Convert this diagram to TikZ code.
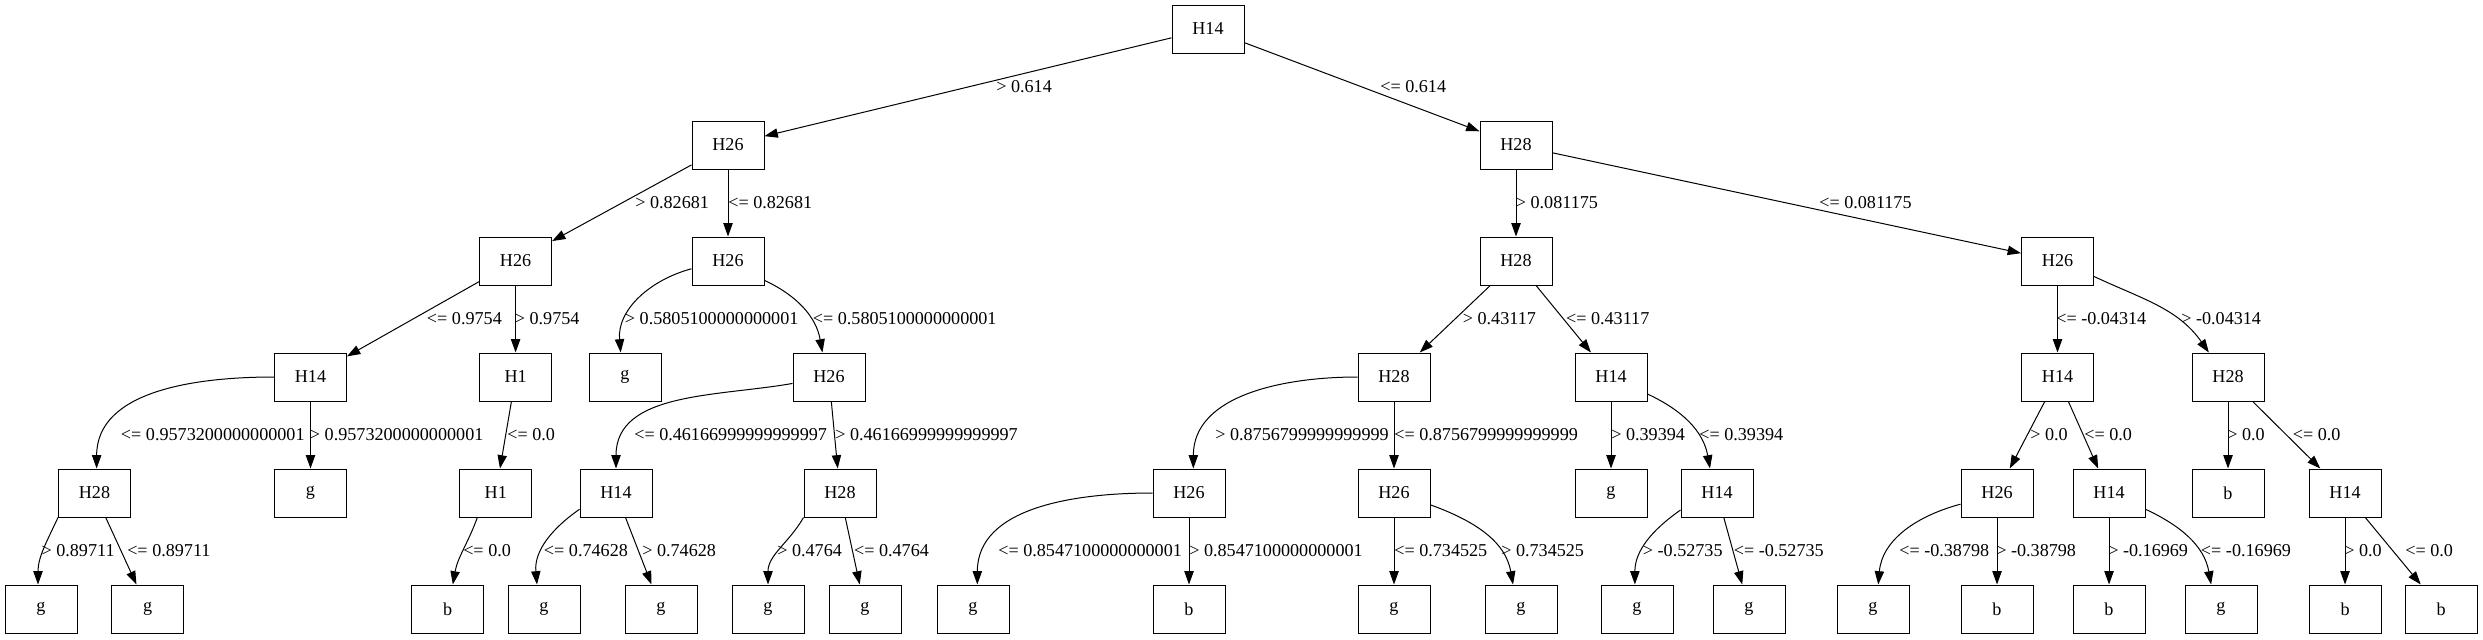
\documentclass[tikz,border=0pt]{standalone}
\usepackage{fontspec}
\setmainfont{Liberation Serif}
\usetikzlibrary{arrows.meta}

\begin{document}
\begin{tikzpicture}[x=0.75pt, y=0.75pt,
  feat/.style={draw, line width=0.75pt, minimum width=54pt,
    minimum height=36pt, inner sep=0pt,
    font=\fontsize{13.6pt}{16pt}\selectfont},
  leaf/.style={feat},
  cond/.style={anchor=west, inner sep=0pt,
    font=\fontsize{13.6pt}{16pt}\selectfont},
  link/.style={line width=0.75pt, -{Triangle[length=10pt, width=7pt]}},
]
  \useasboundingbox (0,0) rectangle (2483,-639);
  % Root and first splits
  \node[feat] (root) at (1208,-29) {H14};
  \node[feat] (L) at (728,-145) {H26};
  \node[feat] (R) at (1516,-145) {H28};
  % Level 2
  \node[feat] (LL) at (515.6,-261) {H26};
  \node[feat] (LR) at (728,-261) {H26};
  \node[feat] (RL) at (1516,-261) {H28};
  \node[feat] (RR) at (2057.5,-261) {H26};
  % Level 3
  \node[feat] (LLL) at (310.5,-377) {H14};
  \node[feat] (LLR) at (515.6,-377) {H1};
  \node[leaf] (LRL) at (625,-377) {g};
  \node[feat] (LRR) at (829,-377) {H26};
  \node[feat] (RLL) at (1394,-377) {H28};
  \node[feat] (RLR) at (1611,-377) {H14};
  \node[feat] (RRL) at (2057.5,-377) {H14};
  \node[feat] (RRR) at (2228,-377) {H28};
  % Level 4
  \node[feat] (LLLL) at (94.5,-493) {H28};
  \node[leaf] (LLLR) at (310.5,-493) {g};
  \node[feat] (LLRL) at (495.8,-493) {H1};
  \node[feat] (LRRL) at (616,-493) {H14};
  \node[feat] (LRRR) at (840,-493) {H28};
  \node[feat] (RLLL) at (1189,-493) {H26};
  \node[feat] (RLLR) at (1394,-493) {H26};
  \node[leaf] (RLRL) at (1611,-493) {g};
  \node[feat] (RLRR) at (1717,-493) {H14};
  \node[feat] (RRLL) at (1997,-493) {H26};
  \node[feat] (RRLR) at (2109,-493) {H14};
  \node[leaf] (RRRL) at (2228,-493) {b};
  \node[feat] (RRRR) at (2345,-493) {H14};
  % Leaves
  \foreach \n/\x/\c in {LLLLL/41/g, LLLLR/147.7/g, LLRLL/447.6/b,
    LRRLL/544/g, LRRLR/661/g, LRRRL/768/g, LRRRR/865/g,
    RLLLL/973/g, RLLLR/1189/b, RLLRL/1394/g, RLLRR/1521/g,
    RLRRL/1637/g, RLRRR/1749/g, RRLLL/1873/g, RRLLR/1997/b,
    RRLRL/2109/b, RRLRR/2221/g, RRRRL/2345/b, RRRRR/2441/b}{
    \node[leaf] (\n) at (\x,-609) {\c};
  }
  % Straight edges
  \foreach \a/\b in {root/L, root/R, L/LL, L/LR, R/RL, R/RR,
    LL/LLL, LL/LLR, RL/RLL, RL/RLR, RR/RRL,
    LLL/LLLR, LLR/LLRL, LRR/LRRR, RLL/RLLR, RLR/RLRL,
    RRL/RRLL, RRL/RRLR, RRR/RRRL, RRR/RRRR,
    LLLL/LLLLR, LRRL/LRRLR, LRRR/LRRRR, RLLL/RLLLR, RLLR/RLLRL,
    RLRR/RLRRR, RRLL/RRLLR, RRLR/RRLRL, RRRR/RRRRL, RRRR/RRRRR}{
    \draw[link] (\a) -- (\b);
  }
  % Curved edges
  \draw[link] (LR.192) to[out=195, in=95] (LRL.100);
  \draw[link] (LR.-28) to[out=-25, in=100] (LRR.105);
  \draw[link] (RR.-23) to[out=-25, in=125] (RRR.128);
  \draw[link] (LLL.west) to[out=180, in=90] (LLLL.85);
  \draw[link] (LLLL.south west) to[out=245, in=90] (LLLLL.97);
  \draw[link] (LLRL.-127) to[out=-110, in=80] (LLRLL.78);
  \draw[link] (LRR.190) to[out=190, in=90] (LRRL.north);
  \draw[link] (LRRL.204) to[out=215, in=95] (LRRLL.106);
  \draw[link] (LRRR.south west) to[out=-120, in=90] (LRRRL.north);
  \draw[link] (RLL.west) to[out=180, in=90] (RLLL.80);
  \draw[link] (RLLL.west) to[out=180, in=90] (RLLLL.80);
  \draw[link] (RLLR.-18) to[out=-20, in=100] (RLLRR.108);
  \draw[link] (RLR.-25) to[out=-25, in=100] (RLRR.106);
  \draw[link] (RLRR.205) to[out=215, in=90] (RLRRL.95);
  \draw[link] (RRLL.197) to[out=195, in=85] (RRLLL.78);
  \draw[link] (RRLR.-24) to[out=-25, in=100] (RRLRR.112);
  % Edge labels
  \foreach \n/\x/\y/\t in {L/996/-87/> 0.614, R/1380/-87/<= 0.614,
    LL/635/-203/> 0.82681, LR/728/-203/<= 0.82681,
    RL/1515.6/-203/> 0.081175, RR/1819/-203/<= 0.081175,
    LLL/426.7/-319/<= 0.9754, LLR/514.6/-319/> 0.9754,
    LRL/624.7/-319/> 0.5805100000000001,
    LRR/812.6/-319/<= 0.5805100000000001,
    RLL/1462.6/-319/> 0.43117, RLR/1565.8/-319/<= 0.43117,
    RRL/2056/-319/<= -0.04314, RRR/2181/-319/> -0.04314,
    LLLL/120.7/-435/<= 0.9573200000000001,
    LLLR/309.7/-435/> 0.9573200000000001,
    LLRL/507/-435/<= 0.0,
    LRRL/634/-435/<= 0.46166999999999997,
    LRRR/835/-435/> 0.46166999999999997,
    RLLL/1215/-435/> 0.8756799999999999,
    RLLR/1394/-435/<= 0.8756799999999999,
    RLRL/1611/-435/> 0.39394, RLRR/1699/-435/<= 0.39394,
    RRLL/2030/-435/> 0.0, RRLR/2084/-435/<= 0.0,
    RRRL/2227/-435/> 0.0, RRRR/2292.5/-435/<= 0.0,
    LLLLL/41.3/-551/> 0.89711, LLLLR/127/-551/<= 0.89711,
    LLRLL/463/-551/<= 0.0,
    LRRLL/543.7/-551/<= 0.74628, LRRLR/642/-551/> 0.74628,
    LRRRL/777/-551/> 0.4764, LRRRR/853.8/-551/<= 0.4764,
    RLLLL/998/-551/<= 0.8547100000000001,
    RLLLR/1189/-551/> 0.8547100000000001,
    RLLRL/1394/-551/<= 0.734525, RLLRR/1501/-551/> 0.734525,
    RLRRL/1642.6/-551/> -0.52735, RLRRR/1733.5/-551/<= -0.52735,
    RRLLL/1899/-551/<= -0.38798, RRLLR/1996/-551/> -0.38798,
    RRLRL/2108/-551/> -0.16969, RRLRR/2200.7/-551/<= -0.16969,
    RRRRL/2344/-551/> 0.0, RRRRR/2405/-551/<= 0.0}{
    \node[cond] (t\n) at (\x,\y) {\t};
  }
\end{tikzpicture}
\end{document}
